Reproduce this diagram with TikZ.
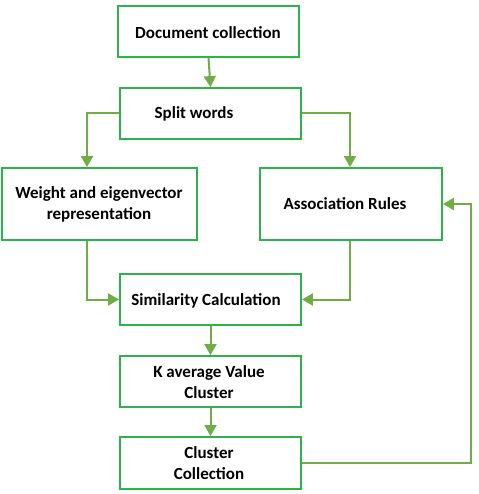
\documentclass[tikz,border=0pt]{standalone}
\usepackage{fontspec}
\setmainfont{Carlito}
\usetikzlibrary{arrows.meta}
\definecolor{boxgreen}{HTML}{2DB34E}
\definecolor{arrowgreen}{HTML}{70AD47}
\tikzset{
  box/.style={draw=boxgreen, line width=1.8pt, inner sep=0pt, align=center,
    font=\fontsize{17}{21}\selectfont\bfseries},
  lbl/.style={font=\fontsize{17}{21}\selectfont\bfseries, align=center},
  conn/.style={draw=arrowgreen, line width=2pt,
    -{Triangle[length=11pt,width=12pt]}}
}
\begin{document}
\begin{tikzpicture}[x=1pt,y=-1pt]
\useasboundingbox (0,0) rectangle (478,494);
% boxes
\node[box, minimum width=181pt, minimum height=51pt] (doc) at (208.5,31.5) {};
\node[lbl] (doct) at (208,33) {Document collection};
\node[box, minimum width=181pt, minimum height=51pt] (split) at (210.5,113.5) {};
\node[lbl] (splitt) at (194,114) {Split words};
\node[box, minimum width=195pt, minimum height=72pt] (weight) at (99.5,204) {};
\node[lbl] (weightt) at (99,204) {Weight and eigenvector\\representation};
\node[box, minimum width=182pt, minimum height=72pt] (assoc) at (351,204) {};
\node[lbl] (assoct) at (345,204) {Association Rules};
\node[box, minimum width=181pt, minimum height=51pt] (sim) at (210.5,299.5) {};
\node[lbl] (simt) at (206,301) {Similarity Calculation};
\node[box, minimum width=181pt, minimum height=51pt] (kavg) at (210.5,381.5) {};
\node[lbl] (kavgt) at (209,382) {K average Value\\Cluster};
\node[box, minimum width=181pt, minimum height=52pt] (clus) at (210.5,463) {};
\node[lbl] (clust) at (209,463) {Cluster\\Collection};
% connectors
\draw[conn] (doc.south) -- (split.north);
\draw[conn] (split.west) -| (87,0 |- weight.north);
\draw[conn] (split.east) -| (350,0 |- assoc.north);
\draw[conn] (87,0 |- weight.south) |- (sim.west);
\draw[conn] (350,0 |- assoc.south) |- (sim.east);
\draw[conn] (sim.south) -- (kavg.north);
\draw[conn] (kavg.south) -- (clus.north);
\coordinate (corner) at (471,463);
\draw[conn] (clus.east) -- (corner) |- (assoc.east);
\end{tikzpicture}
\end{document}
